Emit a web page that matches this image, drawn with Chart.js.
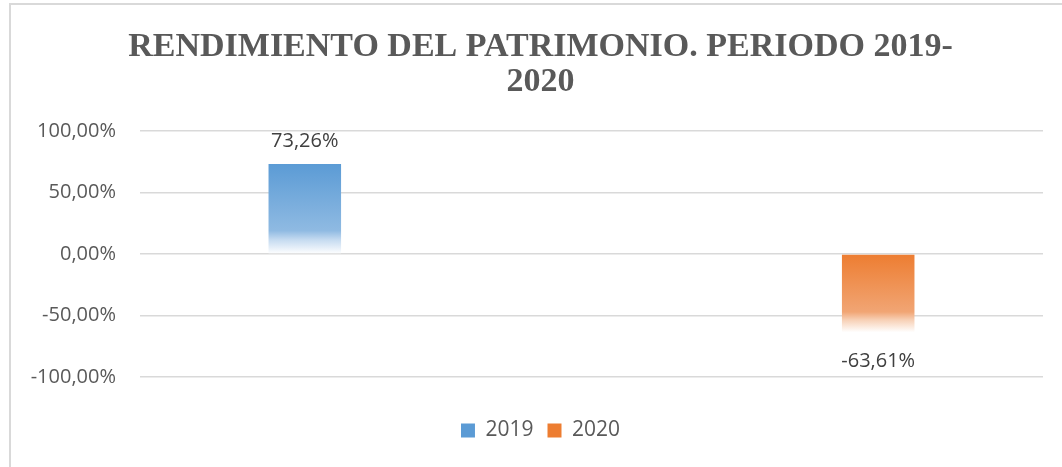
<!DOCTYPE html>
<html>
<head>
<meta charset="utf-8">
<script src="https://cdn.jsdelivr.net/npm/chart.js@4.4.1/dist/chart.umd.min.js"></script>
<style>
  html, body { margin: 0; padding: 0; background: #fff; }
  #wrap { position: relative; width: 1062px; height: 467px; }
  #frame { position: absolute; left: 9px; top: 3px; right: 0; bottom: 0;
           border-left: 2px solid #D9D9D9; border-top: 2px solid #D9D9D9; pointer-events: none; }
  canvas { display: block; }
</style>
</head>
<body>
<div id="wrap">
  <canvas id="c" width="1062" height="467"></canvas>
  <div id="frame"></div>
</div>
<script>
const titleLines = ['RENDIMIENTO DEL PATRIMONIO. PERIODO 2019-', '2020'];
const categories = ['', ''];
const seriesNames = ['2019', '2020'];
const values2019 = [73.26, null];
const values2020 = [null, -63.61];
const tickValues = [-100, -50, 0, 50, 100];

function fmtPct(v) {
  return v.toFixed(2).replace('.', ',') + '%';
}

function makeGradient(base, light, lighter) {
  return function (ctx) {
    const chart = ctx.chart;
    const area = chart.chartArea;
    const v = ctx.raw;
    if (!area || v === undefined || v === null) return base;
    const y = chart.scales.y;
    const p0 = y.getPixelForValue(0), p1 = y.getPixelForValue(v);
    const top = Math.min(p0, p1), bot = Math.max(p0, p1);
    const g = chart.ctx.createLinearGradient(0, top, 0, bot);
    g.addColorStop(0, base);
    g.addColorStop(0.74, light);
    g.addColorStop(0.84, lighter);
    g.addColorStop(1, '#FFFFFF');
    return g;
  };
}

const valueLabels = {
  id: 'valueLabels',
  afterDatasetsDraw(chart) {
    const c = chart.ctx;
    c.save();
    c.font = '20px "Open Sans"';
    c.fillStyle = '#404040';
    c.textAlign = 'center';
    c.textBaseline = 'alphabetic';
    chart.data.datasets.forEach((ds, di) => {
      const meta = chart.getDatasetMeta(di);
      meta.data.forEach((bar, i) => {
        const v = ds.data[i];
        if (v === null || v === undefined) return;
        if (v >= 0) {
          c.fillText(fmtPct(v), bar.x, bar.y - 17);
        } else {
          c.fillText(fmtPct(v), bar.x, bar.y + 35);
        }
      });
    });
    c.restore();
  }
};

// let y-axis tick labels extend into the left layout padding (avoid clipping)
const widenYLabelArea = {
  id: 'widenYLabelArea',
  afterLayout(chart) {
    const y = chart.scales.y;
    if (y) y.left = 12;
  }
};

new Chart(document.getElementById('c'), {
  type: 'bar',
  data: {
    labels: categories,
    datasets: [
      {
        label: seriesNames[0],
        data: values2019,
        backgroundColor: makeGradient('#5B9BD5', '#8FBAE2', '#C4DAF0'),
        categoryPercentage: 0.54,
        barPercentage: 0.595,
        skipNull: false
      },
      {
        label: seriesNames[1],
        data: values2020,
        backgroundColor: makeGradient('#ED7D31', '#F1A574', '#F7CFB4'),
        categoryPercentage: 0.54,
        barPercentage: 0.595,
        skipNull: false
      }
    ]
  },
  options: {
    responsive: false,
    animation: false,
    layout: { padding: { left: 38, right: 19, top: 13, bottom: 16 } },
    plugins: {
      title: {
        display: true,
        text: titleLines,
        color: '#595959',
        font: { family: '"Liberation Serif", "Times New Roman", serif', size: 34, weight: 'bold', lineHeight: 1.03 },
        padding: { top: 17, bottom: 31 }
      },
      legend: {
        position: 'bottom',
        labels: {
          color: '#595959',
          font: { family: '"Open Sans"', size: 21 },
          boxWidth: 14,
          boxHeight: 14,
          padding: 14,
          generateLabels(chart) {
            const cols = ['#5B9BD5', '#ED7D31'];
            return chart.data.datasets.map((ds, i) => ({
              text: ds.label,
              fillStyle: cols[i],
              strokeStyle: 'rgba(0,0,0,0)',
              lineWidth: 0,
              fontColor: '#595959',
              datasetIndex: i,
              hidden: false
            }));
          }
        }
      },
      tooltip: { enabled: false }
    },
    scales: {
      x: {
        display: true,
        grid: { display: false, drawTicks: false },
        border: { display: false },
        ticks: { display: false },
        afterFit(scale) { scale.height = 29; }
      },
      y: {
        min: -100,
        max: 100,
        afterBuildTicks(scale) { scale.ticks = tickValues.map(v => ({ value: v })); },
        afterFit(scale) { scale.width = 102; },
        grid: { color: '#D9D9D9', lineWidth: 1.5, drawTicks: false },
        border: { display: false },
        ticks: {
          color: '#595959',
          font: { family: '"Open Sans"', size: 20 },
          padding: 24,
          callback: (v) => fmtPct(v)
        }
      }
    }
  },
  plugins: [valueLabels, widenYLabelArea]
});
</script>
</body>
</html>
